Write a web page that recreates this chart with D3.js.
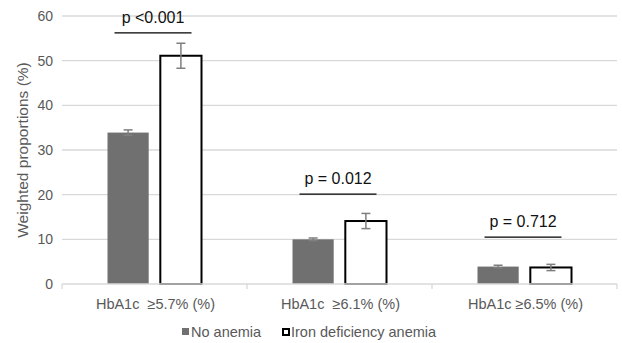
<!DOCTYPE html>
<html>
<head>
<meta charset="utf-8">
<script src="https://cdn.jsdelivr.net/npm/d3@7"></script>
<style>
  body { margin: 0; background: #fff; }
  text { font-family: "Liberation Sans", Arial, sans-serif; }
</style>
</head>
<body>
<svg id="chart" width="622" height="343"></svg>
<script>
// data
var categories = ["HbA1c  \u22655.7% (%)", "HbA1c  \u22656.1% (%)", "HbA1c \u22656.5% (%)"];
var seriesNames = ["No anemia", "Iron deficiency anemia"];
var noAnemia = [33.9, 10.0, 3.9];
var noAnemiaErr = [0.6, 0.3, 0.3];
var ida = [51.1, 14.1, 3.7];
var idaErr = [2.8, 1.7, 0.7];
var pLabels = ["p <0.001", "p = 0.012", "p = 0.712"];
var pLevels = [56.2, 20.1, 10.5];
var yTicks = [0, 10, 20, 30, 40, 50, 60];

var margins = {top: 16, right: 5, bottom: 59, left: 62};
var svg = d3.select("#chart");
var width = +svg.attr("width") - margins.left - margins.right,
    height = +svg.attr("height") - margins.top - margins.bottom;

var g = svg.append("g")
    .attr("transform", "translate(" + margins.left + "," + margins.top + ")");

var x = d3.scaleBand().domain(categories).range([0, width]).padding(0);
var x1 = d3.scaleBand().domain(seriesNames).range([-47, 47]).paddingInner(0.22);
var y = d3.scaleLinear().domain([0, 60]).range([height, 0]);

// gridlines
g.selectAll(".grid")
  .data(yTicks.slice(1))
  .enter().append("line")
    .attr("x1", 0).attr("x2", width)
    .attr("y1", function(d) { return y(d); })
    .attr("y2", function(d) { return y(d); })
    .attr("stroke", "#d9d9d9")
    .attr("stroke-width", 1.3);

// y axis labels
var yAxis = g.append("g")
    .call(d3.axisLeft(y).tickValues(yTicks).tickSize(0).tickPadding(9));
yAxis.select(".domain").remove();
yAxis.selectAll("text")
    .attr("fill", "#595959")
    .style("font-family", "'Liberation Sans', Arial, sans-serif")
    .style("font-size", "14px");

// y axis title
g.append("text")
    .attr("transform", "rotate(-90)")
    .attr("x", -height / 2)
    .attr("y", -34)
    .style("text-anchor", "middle")
    .style("font-size", "15.5px")
    .attr("fill", "#595959")
    .text("Weighted proportions (%)");

var rows = categories.map(function(c, i) {
  return {cat: c, vals: [
    {s: seriesNames[0], v: noAnemia[i], e: noAnemiaErr[i]},
    {s: seriesNames[1], v: ida[i], e: idaErr[i]}
  ]};
});

var groups = g.selectAll(".grp")
  .data(rows)
  .enter().append("g")
    .attr("transform", function(d) { return "translate(" + (x(d.cat) + x.bandwidth() / 2) + ",0)"; });

groups.selectAll(".bar")
  .data(function(d) { return d.vals; })
  .enter().append("rect")
    .attr("x", function(d) { return x1(d.s); })
    .attr("y", function(d) { return y(d.v); })
    .attr("width", x1.bandwidth())
    .attr("height", function(d) { return height - y(d.v); })
    .attr("fill", function(d) { return d.s === seriesNames[0] ? "#707070" : "#fff"; })
    .attr("stroke", function(d) { return d.s === seriesNames[0] ? "none" : "#000"; })
    .attr("stroke-width", 2);

// x axis baseline and category ticks
g.append("line")
    .attr("x1", 0).attr("x2", width)
    .attr("y1", height).attr("y2", height)
    .attr("stroke", "#d9d9d9")
    .attr("stroke-width", 1.5);
g.selectAll(".xtick")
  .data(categories.concat(["end"]))
  .enter().append("line")
    .attr("x1", function(d, i) { return i * x.bandwidth(); })
    .attr("x2", function(d, i) { return i * x.bandwidth(); })
    .attr("y1", height).attr("y2", height + 5)
    .attr("stroke", "#d9d9d9")
    .attr("stroke-width", 1.3);

// error bars
var eb = groups.selectAll(".err")
  .data(function(d) { return d.vals; })
  .enter().append("g")
    .attr("stroke", "#7f7f7f")
    .attr("stroke-width", 1.5);
eb.append("line")
    .attr("x1", function(d) { return x1(d.s) + x1.bandwidth() / 2; })
    .attr("x2", function(d) { return x1(d.s) + x1.bandwidth() / 2; })
    .attr("y1", function(d) { return y(d.v + d.e); })
    .attr("y2", function(d) { return y(d.v - d.e); });
eb.selectAll(".cap")
  .data(function(d) { return [d.v + d.e, d.v - d.e].map(function(t) { return {s: d.s, t: t}; }); })
  .enter().append("line")
    .attr("x1", function(d) { return x1(d.s) + x1.bandwidth() / 2 - 4.5; })
    .attr("x2", function(d) { return x1(d.s) + x1.bandwidth() / 2 + 4.5; })
    .attr("y1", function(d) { return y(d.t); })
    .attr("y2", function(d) { return y(d.t); });

// category labels
g.selectAll(".xlab")
  .data(categories)
  .enter().append("text")
    .attr("x", function(d) { return x(d) + x.bandwidth() / 2 + 1; })
    .attr("y", height + 25)
    .style("text-anchor", "middle")
    .style("font-size", "14.5px")
    .attr("fill", "#595959")
    .style("white-space", "pre")
    .text(function(d) { return d; });

// p-value annotations
groups.append("line")
    .attr("x1", -40).attr("x2", 37)
    .attr("y1", function(d, i) { return y(pLevels[i]); })
    .attr("y2", function(d, i) { return y(pLevels[i]); })
    .attr("stroke", "#000")
    .attr("stroke-width", 1.3);
groups.append("text")
    .attr("x", -1.5)
    .attr("y", function(d, i) { return y(pLevels[i]) - 10; })
    .style("text-anchor", "middle")
    .style("font-size", "16px")
    .attr("fill", "#111")
    .text(function(d, i) { return pLabels[i]; });

// legend
var legend = svg.append("g").attr("transform", "translate(182,328)");
var legX = [0, 100];
seriesNames.forEach(function(s, i) {
  legend.append("rect")
      .attr("x", legX[i] + (i ? 1 : 0)).attr("y", i ? 1 : 0)
      .attr("width", i ? 6 : 7).attr("height", i ? 6 : 7)
      .attr("fill", i ? "#fff" : "#707070")
      .attr("stroke", i ? "#000" : "none")
      .attr("stroke-width", 2);
  legend.append("text")
      .attr("x", legX[i] + 9)
      .attr("y", 8.5)
      .style("font-size", "14.5px")
      .attr("fill", "#595959")
      .text(s);
});
</script>
</body>
</html>
